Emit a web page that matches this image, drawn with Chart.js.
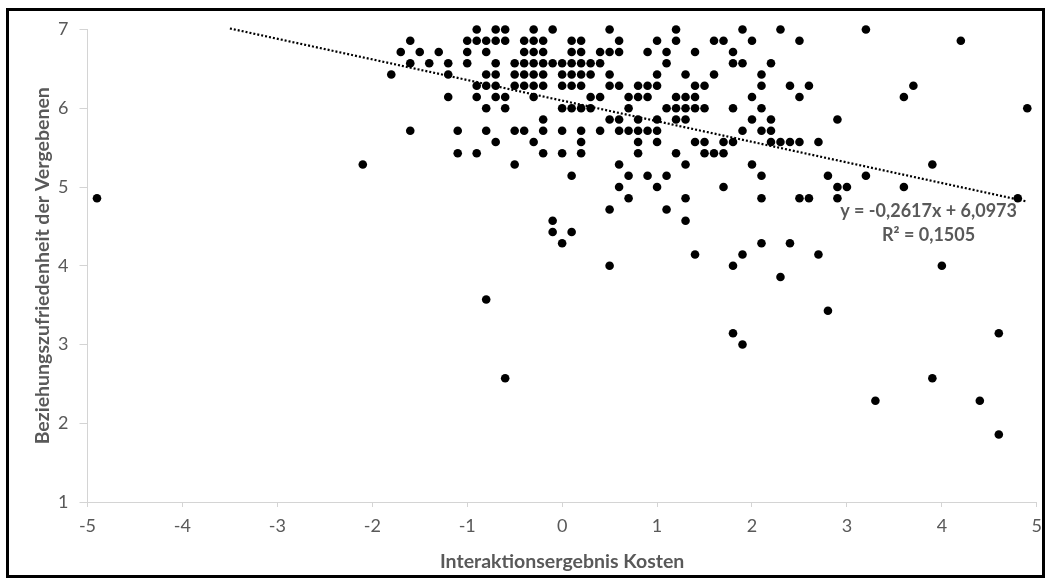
<!DOCTYPE html>
<html>
<head>
  <title>Beziehungszufriedenheit vs. Interaktionsergebnis Kosten</title>
  <script src="https://cdn.jsdelivr.net/npm/chart.js"></script>
  <style>
    body { margin: 0; background: #fff; }
  </style>
</head>
<body>
  <canvas id="scatterChart" width="1050" height="584"></canvas>

  <script>
    // y-Stufen (Siebtel-Schritte) und die x-Werte aller Punkte auf jeder Stufe
    const stufen = [7, 6.857, 6.714, 6.571, 6.429, 6.286, 6.143, 6, 5.857, 5.714,
                    5.571, 5.429, 5.286, 5.143, 5, 4.857, 4.714, 4.571, 4.429, 4.286,
                    4.143, 4, 3.857, 3.571, 3.429, 3.143, 3, 2.571, 2.286, 1.857];

    const kostenJeStufe = [
      [-0.9, -0.7, -0.6, -0.3, -0.1, 0.5, 1.2, 1.9, 2.3, 3.2],
      [-1.6, -1.0, -0.9, -0.8, -0.7, -0.6, -0.4, -0.3, -0.2, 0.1, 0.2, 0.6, 1.0, 1.2, 1.6, 1.7, 2.0, 2.5, 4.2],
      [-1.7, -1.5, -1.3, -1.0, -0.8, -0.4, -0.3, -0.2, 0.1, 0.2, 0.4, 0.5, 0.6, 0.9, 1.1, 1.4, 1.8],
      [-1.6, -1.4, -1.2, -1.0, -0.7, -0.5, -0.4, -0.3, -0.2, -0.1, 0.0, 0.1, 0.2, 0.3, 0.4, 1.1, 1.8, 1.9, 2.2],
      [-1.8, -1.2, -0.8, -0.7, -0.5, -0.4, -0.3, -0.2, 0.0, 0.1, 0.2, 0.3, 0.5, 1.0, 1.3, 1.6, 2.1],
      [-0.9, -0.8, -0.7, -0.5, -0.4, -0.3, -0.2, 0.0, 0.1, 0.2, 0.5, 0.6, 0.8, 0.9, 1.0, 1.4, 1.5, 2.1, 2.4, 2.6, 3.7],
      [-1.2, -0.9, -0.7, -0.6, -0.3, 0.3, 0.4, 0.7, 0.8, 0.9, 1.2, 1.3, 1.4, 2.0, 2.5, 3.6],
      [-0.8, -0.6, 0.0, 0.1, 0.2, 0.3, 0.7, 1.1, 1.2, 1.3, 1.4, 1.5, 1.8, 2.1, 4.9],
      [-0.2, 0.5, 0.6, 0.8, 1.0, 1.2, 1.3, 2.0, 2.2, 2.9],
      [-1.6, -1.1, -0.8, -0.5, -0.4, -0.2, 0.0, 0.2, 0.4, 0.6, 0.7, 0.8, 0.9, 1.0, 1.9, 2.1, 2.2],
      [-0.7, -0.3, 0.2, 0.8, 1.0, 1.4, 1.5, 1.7, 1.8, 2.2, 2.3, 2.4, 2.5, 2.7],
      [-1.1, -0.9, -0.2, 0.0, 0.2, 0.8, 1.2, 1.5, 1.6, 1.7],
      [-2.1, -0.5, 0.6, 1.3, 2.0, 3.9],
      [0.1, 0.7, 0.9, 1.1, 2.1, 2.8, 3.2],
      [0.6, 1.0, 1.7, 2.9, 3.0, 3.6],
      [-4.9, 0.7, 1.3, 2.1, 2.5, 2.6, 2.9, 4.8],
      [0.5, 1.1],
      [-0.1, 1.3],
      [-0.1, 0.1],
      [0.0, 2.1, 2.4],
      [1.4, 1.9, 2.7],
      [0.5, 1.8, 4.0],
      [2.3],
      [-0.8],
      [2.8],
      [1.8, 4.6],
      [1.9],
      [-0.6, 3.9],
      [3.3, 4.4],
      [4.6]
    ];

    // lineare Trendlinie (Endpunkte)
    const trendX = [-3.5, 4.9];
    const trendY = [7.013, 4.815];
    const gleichung = ['y = -0,2617x + 6,0973', 'R\u00B2 = 0,1505'];
    const gleichungPos = { x: 3.86, y: [4.69, 4.39] };

    const punkte = [];
    stufen.forEach((y, i) => {
      kostenJeStufe[i].forEach(x => punkte.push({ x: x, y: y }));
    });

    const grau = '#595959';
    const achsenGrau = '#d4d4d4';

    const rahmen = {
      id: 'rahmen',
      afterDraw(chart) {
        const ctx = chart.ctx;
        ctx.save();
        ctx.strokeStyle = '#000';
        ctx.lineWidth = 3;
        ctx.strokeRect(7.5, 9.5, 1036, 567);
        ctx.restore();
      }
    };

    const gleichungText = {
      id: 'gleichungText',
      afterDatasetsDraw(chart) {
        const ctx = chart.ctx;
        const xs = chart.scales.x, ys = chart.scales.y;
        ctx.save();
        ctx.fillStyle = grau;
        ctx.font = 'bold 18px Lato';
        ctx.textAlign = 'center';
        ctx.textBaseline = 'middle';
        gleichung.forEach((t, i) => {
          ctx.fillText(t, xs.getPixelForValue(gleichungPos.x), ys.getPixelForValue(gleichungPos.y[i]));
        });
        ctx.restore();
      }
    };

    const ctx = document.getElementById('scatterChart').getContext('2d');
    new Chart(ctx, {
      type: 'scatter',
      data: {
        datasets: [{
          label: 'Werte',
          data: punkte,
          backgroundColor: '#000',
          borderColor: '#000',
          pointRadius: 4.3,
          pointBorderWidth: 0,
          clip: false
        }, {
          type: 'line',
          label: 'Linear',
          data: trendX.map((x, i) => ({ x: x, y: trendY[i] })),
          borderColor: '#000',
          borderWidth: 2.2,
          borderDash: [2, 2],
          pointRadius: 0,
          fill: false,
          clip: false
        }]
      },
      options: {
        responsive: false,
        animation: false,
        layout: { padding: { top: 29.5, right: 13, left: 0, bottom: 0 } },
        plugins: {
          legend: { display: false },
          tooltip: { enabled: false }
        },
        scales: {
          x: {
            type: 'linear',
            min: -5,
            max: 5,
            afterFit: s => { s.height = 82; },
            border: { color: achsenGrau, width: 1 },
            grid: { drawOnChartArea: false, drawTicks: true, tickLength: 5, color: achsenGrau },
            ticks: { stepSize: 1, padding: 8, color: grau, font: { family: 'Lato', size: 18 } },
            title: {
              display: true,
              text: 'Interaktionsergebnis Kosten',
              color: grau,
              font: { family: 'Lato', size: 19.5, weight: 'bold' },
              padding: { top: 0, bottom: 11 }
            }
          },
          y: {
            min: 1,
            max: 7,
            afterFit: s => { s.width = 87.5; },
            border: { color: achsenGrau, width: 1 },
            grid: { drawOnChartArea: false, drawTicks: true, tickLength: 8, color: achsenGrau },
            ticks: { stepSize: 1, padding: 11, color: grau, font: { family: 'Lato', size: 18 } },
            title: {
              display: true,
              text: 'Beziehungszufriedenheit der Vergebenen',
              color: grau,
              font: { family: 'Lato', size: 19.5, weight: 'bold' },
              padding: { top: 31, bottom: 0 }
            }
          }
        }
      },
      plugins: [rahmen, gleichungText]
    });
  </script>
</body>
</html>
